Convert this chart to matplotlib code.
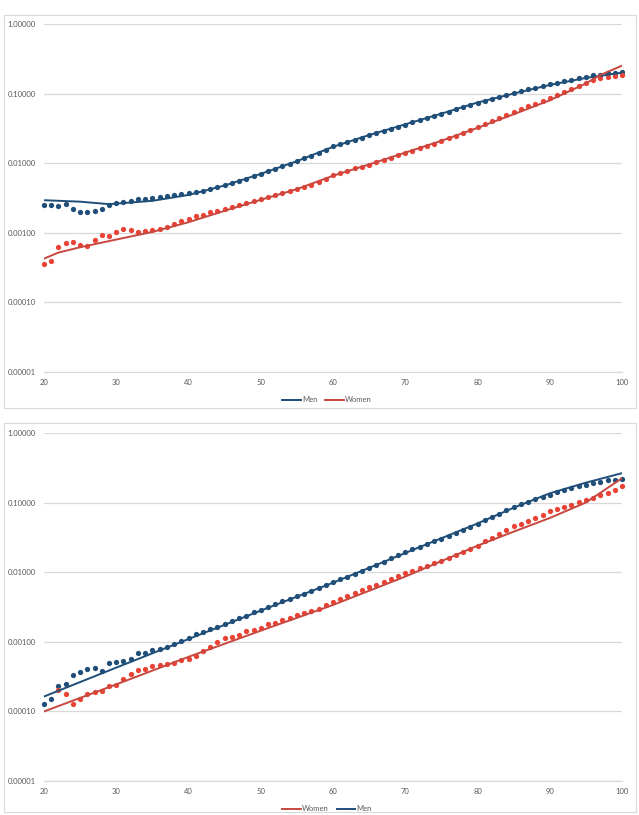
import numpy as np
import matplotlib
matplotlib.use("Agg")
import matplotlib.pyplot as plt
from matplotlib.patches import Rectangle
from matplotlib.ticker import FixedLocator, NullLocator

plt.rcParams["font.family"] = ["Lato", "DejaVu Sans"]

ages = list(range(20, 101))

# top chart - observed rates
top_men = [
    0.00249, 0.00252, 0.00241, 0.00258, 0.00219, 0.00202, 0.00202, 0.00207, 0.00219, 0.00247,
    0.00272, 0.00278, 0.00291, 0.00301, 0.00311, 0.00318, 0.00329, 0.00336, 0.00347, 0.00359,
    0.00372, 0.00388, 0.00405, 0.00428, 0.00457, 0.00484, 0.00522, 0.00558, 0.00602, 0.00657,
    0.00711, 0.00768, 0.00838, 0.00906, 0.00989, 0.0108, 0.0117, 0.0129, 0.0139, 0.0155,
    0.0174, 0.0186, 0.0200, 0.0216, 0.0232, 0.0251, 0.0269, 0.0288, 0.0313, 0.0335,
    0.0359, 0.0385, 0.0412, 0.0442, 0.0479, 0.0513, 0.0550, 0.0596, 0.0638, 0.0692,
    0.0741, 0.0794, 0.0841, 0.0902, 0.0955, 0.1012, 0.1072, 0.1148, 0.1216, 0.1288,
    0.1361, 0.1429, 0.1514, 0.1585, 0.1667, 0.1754, 0.182, 0.188, 0.195, 0.1995,
    0.205,
]
top_women = [
    0.000355, 0.000396, 0.00062, 0.000703, 0.000743, 0.000658, 0.000645, 0.000786, 0.00094, 0.000893,
    0.00103, 0.00113, 0.00109, 0.00101, 0.00105, 0.00109, 0.00115, 0.00122, 0.00134, 0.00148,
    0.00159, 0.00172, 0.00181, 0.00196, 0.00207, 0.00219, 0.00234, 0.0025, 0.00267, 0.00288,
    0.00308, 0.00329, 0.00355, 0.00379, 0.00405, 0.00433, 0.00462, 0.00494, 0.0054, 0.0060,
    0.00676, 0.00724, 0.00785, 0.00841, 0.00891, 0.00955, 0.01035, 0.01122, 0.01202, 0.01303,
    0.01413, 0.01514, 0.01641, 0.01778, 0.01905, 0.02065, 0.02265, 0.02483, 0.02723, 0.02985,
    0.03273, 0.0363, 0.0403, 0.0447, 0.0490, 0.0543, 0.0596, 0.0653, 0.0716, 0.0794,
    0.0867, 0.0955, 0.1059, 0.1161, 0.1288, 0.1413, 0.1549, 0.166, 0.1738, 0.180,
    0.1875,
]
# top chart - fitted curves
top_men_fit_ages = [20, 25, 29, 35, 40, 45, 50, 55, 60, 65, 70, 75, 80, 85, 90, 95, 100]
top_men_fit = [0.00294, 0.0028, 0.00258, 0.00288, 0.0035, 0.00478, 0.00703, 0.0107, 0.0172,
               0.0254, 0.0362, 0.0515, 0.0745, 0.100, 0.133, 0.168, 0.200]
top_women_fit_ages = [20, 22, 25, 30, 35, 40, 45, 50, 55, 60, 65, 70, 75, 80, 85, 90, 95, 97, 100]
top_women_fit = [0.000425, 0.00052, 0.00062, 0.0008, 0.00103, 0.00142, 0.00207, 0.00298, 0.00424,
                 0.0066, 0.0096, 0.0142, 0.0210, 0.0322, 0.0505, 0.080, 0.140, 0.185, 0.252]

# bottom chart - observed rates
bot_men = [
    0.000127, 0.000149, 0.000231, 0.000252, 0.000329, 0.000371, 0.000414, 0.000418, 0.000384, 0.000494,
    0.00051, 0.00054, 0.00057, 0.000687, 0.000703, 0.000759, 0.000794, 0.000837, 0.00092, 0.00102,
    0.00112, 0.0013, 0.00141, 0.00152, 0.00166, 0.00183, 0.0020, 0.00219, 0.00239, 0.0027,
    0.00291, 0.00321, 0.00355, 0.00388, 0.00419, 0.00453, 0.00494, 0.00546, 0.00603, 0.0066,
    0.00724, 0.00794, 0.00871, 0.00955, 0.01047, 0.01175, 0.01288, 0.01429, 0.01585, 0.01758,
    0.0195, 0.0214, 0.0232, 0.0254, 0.0279, 0.0305, 0.0335, 0.0367, 0.0407, 0.0452,
    0.0501, 0.0562, 0.0631, 0.0700, 0.0785, 0.0871, 0.0955, 0.1035, 0.1122, 0.1216,
    0.1318, 0.1413, 0.1514, 0.1622, 0.1738, 0.1832, 0.1928, 0.2018, 0.2113, 0.2163,
    0.2208,
]
bot_women = [
    np.nan, np.nan, 0.000202, 0.000177, 0.00013, 0.00015, 0.000177, 0.00019, 0.0002, 0.000231,
    0.00024, 0.000294, 0.000351, 0.000392, 0.000405, 0.000455, 0.000468, 0.000478, 0.000495, 0.000545,
    0.000563, 0.000637, 0.000743, 0.000857, 0.00099, 0.00112, 0.00118, 0.00127, 0.00142, 0.0015,
    0.00161, 0.00179, 0.0019, 0.00207, 0.00223, 0.00244, 0.00261, 0.00279, 0.00301, 0.00339,
    0.0038, 0.00417, 0.00457, 0.00501, 0.00556, 0.0061, 0.00668, 0.00733, 0.00804, 0.00881,
    0.00968, 0.0106, 0.01148, 0.01245, 0.01349, 0.01469, 0.01622, 0.01778, 0.01972, 0.02163,
    0.0239, 0.0279, 0.0316, 0.0359, 0.0407, 0.0457, 0.0501, 0.0550, 0.0610, 0.0676,
    0.0752, 0.0813, 0.0871, 0.0933, 0.1012, 0.1104, 0.1189, 0.1288, 0.1396, 0.1531,
    0.1774,
]
# bottom chart - fitted curves
bot_fit_ages = [20, 30, 40, 50, 60, 70, 80, 85, 90, 95, 100]
bot_men_fit = [0.000164, 0.000427, 0.0011, 0.00282, 0.0071, 0.019, 0.0505, 0.085, 0.137, 0.195, 0.267]
bot_women_fit = [0.0001, 0.000245, 0.00061, 0.00145, 0.0034, 0.0087, 0.0242, 0.0385, 0.0605, 0.101, 0.226]

y_ticks = [0.00001, 0.0001, 0.001, 0.01, 0.1, 1.0]
x_ticks = [20, 30, 40, 50, 60, 70, 80, 90, 100]

BLUE = "#1f4e79"
RED_DOT = "#ea4335"
RED_LINE = "#c8473f"
GRID = "#d9d9d9"
TXT = "#595959"


def draw_panel(fig, rect, men, women, men_fit_x, men_fit, women_fit_x, women_fit, order):
    ax = fig.add_axes(rect)
    ax.set_yscale("log")
    ax.set_ylim(0.00001, 1.0)
    ax.set_xlim(20, 100)
    ax.yaxis.set_major_locator(FixedLocator(y_ticks))
    ax.yaxis.set_minor_locator(NullLocator())
    ax.set_yticklabels(["%.5f" % v for v in y_ticks])
    ax.set_xticks(x_ticks)
    ax.grid(axis="y", color=GRID, linewidth=0.9)
    ax.set_axisbelow(True)
    for s in ["top", "right", "left"]:
        ax.spines[s].set_visible(False)
    ax.spines["bottom"].set_color(GRID)
    ax.spines["bottom"].set_linewidth(0.9)
    ax.tick_params(length=0, labelsize=5.5, labelcolor=TXT, pad=6)
    ax.tick_params(axis="x", pad=5)

    ax.plot(ages, men, "o", color=BLUE, markersize=3.8, markeredgewidth=0, clip_on=False)
    ax.plot(ages, women, "o", color=RED_DOT, markersize=3.8, markeredgewidth=0, clip_on=False)
    lm, = ax.plot(men_fit_x, men_fit, color=BLUE, linewidth=1.4, label="Men")
    lw, = ax.plot(women_fit_x, women_fit, color=RED_LINE, linewidth=1.4, label="Women")

    handles = [lm, lw] if order == "mw" else [lw, lm]
    ax.legend(handles=handles, loc="upper center", bbox_to_anchor=(0.49, -0.05), ncol=2,
              frameon=False, fontsize=5.5, labelcolor=TXT, handlelength=2.4,
              handletextpad=0.2, columnspacing=1.0)
    return ax


fig = plt.figure(figsize=(6.39, 8.15), dpi=100)

# chart frames
fig.patches.append(Rectangle((4 / 639, 1 - 408 / 815), 632 / 639, 393 / 815, transform=fig.transFigure,
                             fill=False, edgecolor=GRID, linewidth=0.8))
fig.patches.append(Rectangle((4 / 639, 1 - 812 / 815), 632 / 639, 389 / 815, transform=fig.transFigure,
                             fill=False, edgecolor=GRID, linewidth=0.8))

draw_panel(fig, [44 / 639, 1 - 372 / 815, 578 / 639, 348 / 815],
           top_men, top_women, top_men_fit_ages, top_men_fit, top_women_fit_ages, top_women_fit, "mw")
draw_panel(fig, [44 / 639, 1 - 781 / 815, 578 / 639, 347.7 / 815],
           bot_men, bot_women, bot_fit_ages, bot_men_fit, bot_fit_ages, bot_women_fit, "wm")

fig.savefig("out.png", dpi=100)
